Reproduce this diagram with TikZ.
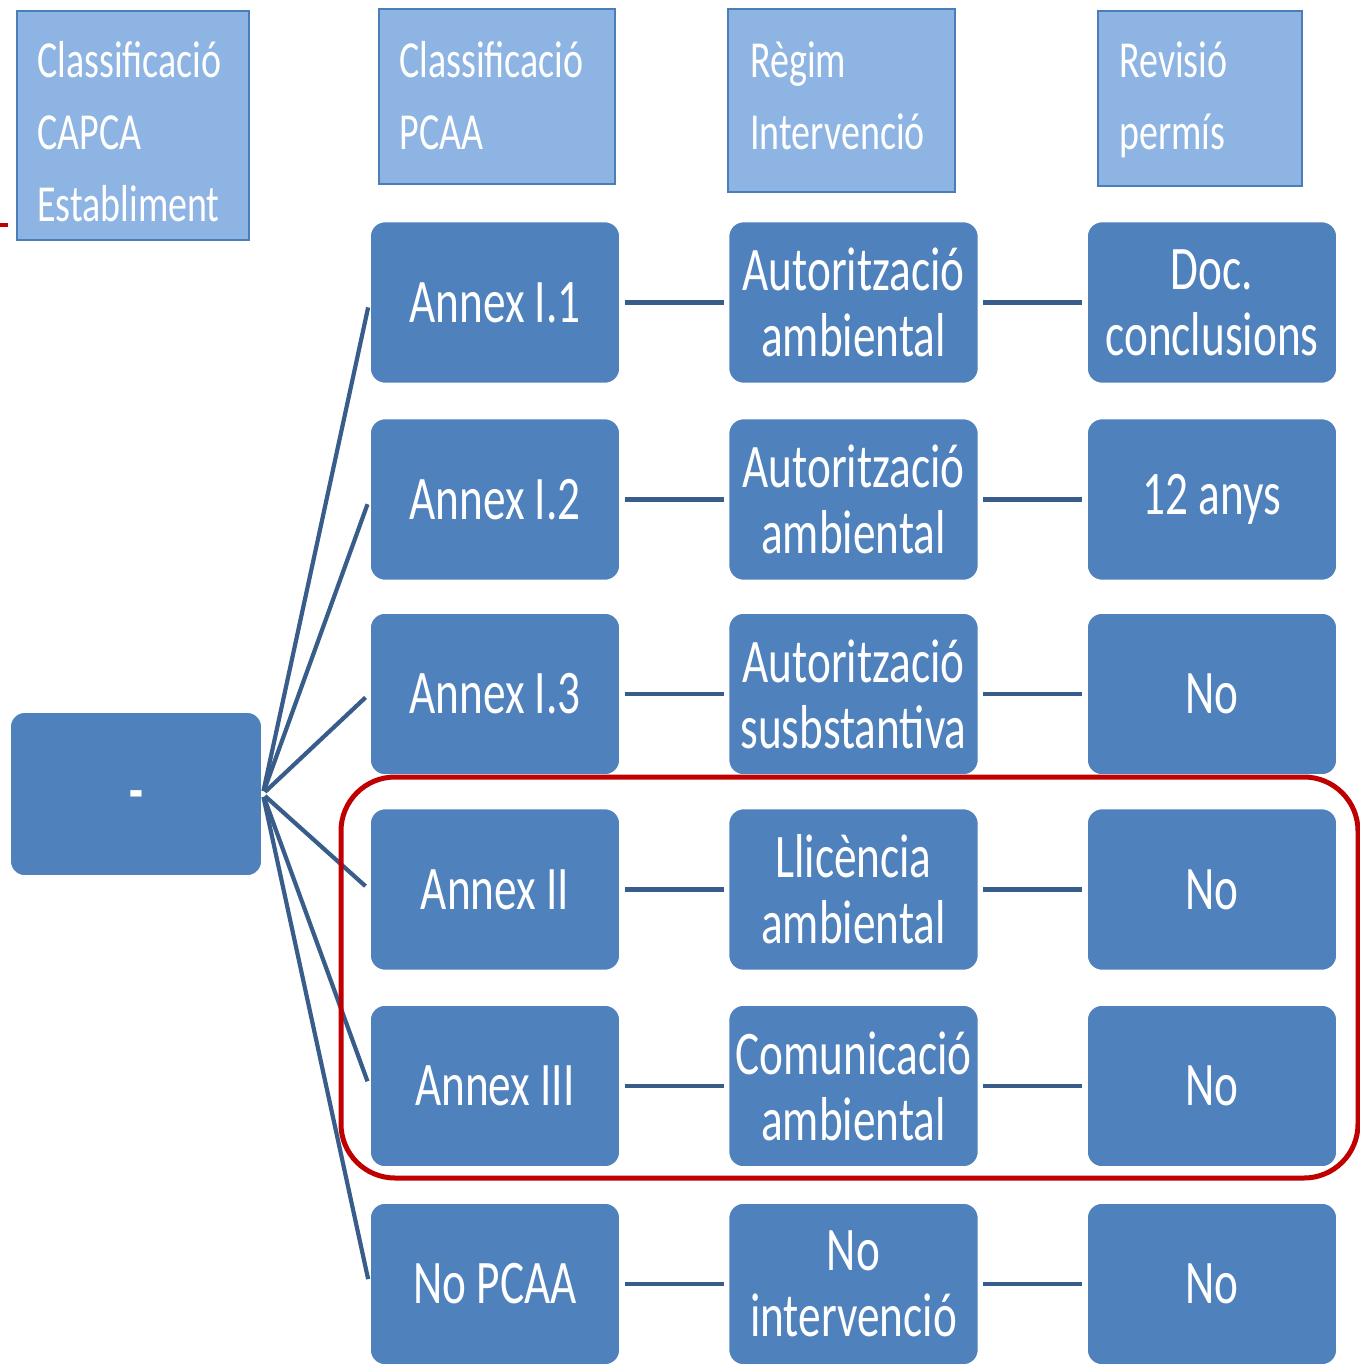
\documentclass[tikz,border=0pt]{standalone}
\usepackage{fontspec}
\setmainfont{Carlito}[FakeStretch=0.73]
\usepackage{tikz}

\definecolor{boxblue}{RGB}{79,129,189}
\definecolor{headblue}{RGB}{142,180,227}
\definecolor{headline}{RGB}{74,126,187}
\definecolor{linkblue}{RGB}{56,93,138}
\definecolor{markred}{RGB}{192,0,0}

\begin{document}
\begin{tikzpicture}[x=0.5pt,y=0.5pt,yscale=-1,xscale=1,
    headbox/.style={draw=headline,fill=headblue,line width=1.3pt,minimum width=#1},
    headtext/.style={anchor=north west,inner sep=0pt,align=left,text=white,font=\fontsize{26}{36}\selectfont},
    stepbox/.style={fill=boxblue,draw=white,line width=0.8pt,rounded corners=7.5pt,minimum width=125pt,minimum height=81pt,
      text=white,align=center,font=\fontsize{31}{33}\selectfont},
    link/.style={draw=linkblue,line width=2.1pt}]
      \useasboundingbox (0,0) rectangle (1360,1371);

      % column headers
      \node [headbox=116pt,minimum height=114.5pt] (capca) at (133,125.5) {};
      \node [headbox=118pt,minimum height=87.5pt] (pcaa) at (497,96.5) {};
      \node [headbox=113.5pt,minimum height=91.5pt] (regim) at (841.5,100.5) {};
      \node [headbox=102pt,minimum height=87.5pt] (revisio) at (1200,98.5) {};
      \node [headtext] (capcat) at (37,41) {Classificació\\CAPCA\\Establiment};
      \node [headtext] (pcaat) at (399,41) {Classificació\\PCAA};
      \node [headtext] (regimt) at (750,41) {Règim\\Intervenció};
      \node [headtext] (revisiot) at (1119,41) {Revisió\\permís};

      % root
      \node [stepbox,minimum width=126pt,minimum height=82pt,text height=0pt,text depth=0pt] (root) at (136,794) {\raisebox{-8.5pt}{\textbf{-}}};

      % PCAA classes
      \node [stepbox] (a11) at (495,302.5) {Annex I.1};
      \node [stepbox] (a12) at (495,499.5) {Annex I.2};
      \node [stepbox] (a13) at (495,694) {Annex I.3};
      \node [stepbox] (a2) at (495,889.5) {Annex II};
      \node [stepbox] (a3) at (495,1086) {Annex III};
      \node [stepbox] (nopcaa) at (495,1284) {No PCAA};

      % regime
      \node [stepbox] (r11) at (853.5,302.5) {Autorització\\ambiental};
      \node [stepbox] (r12) at (853.5,499.5) {Autorització\\ambiental};
      \node [stepbox] (r13) at (853.5,694) {Autorització\\susbstantiva};
      \node [stepbox] (r2) at (853.5,889.5) {Llicència\\ambiental};
      \node [stepbox] (r3) at (853.5,1086) {Comunicació\\ambiental};
      \node [stepbox] (rno) at (853.5,1284) {No\\intervenció};

      % review
      \node [stepbox] (v11) at (1212,302.5) {Doc.\\conclusions};
      \node [stepbox] (v12) at (1212,499.5) {12 anys};
      \node [stepbox] (v13) at (1212,694) {No};
      \node [stepbox] (v2) at (1212,889.5) {No};
      \node [stepbox] (v3) at (1212,1086) {No};
      \node [stepbox] (vno) at (1212,1284) {No};

      % links
      \foreach \a/\r/\v in {a11/r11/v11,a12/r12/v12,a13/r13/v13,a2/r2/v2,a3/r3/v3,nopcaa/rno/vno} {
        \draw [link,shorten <=1.5pt,shorten >=2.5pt] (root.east) -- (\a.west) ;
        \draw [link,shorten <=2pt,shorten >=2pt] (\a.east) -- (\r.west) ;
        \draw [link,shorten <=2pt,shorten >=2pt] (\r.east) -- (\v.west) ;
      }

      % highlight
      \draw [markred,line width=2.5pt,rounded corners=27pt] (341,777) rectangle (1358,1178) ;
      \draw [markred,line width=2pt] (0,225) -- (8,225) ;
\end{tikzpicture}
\end{document}
